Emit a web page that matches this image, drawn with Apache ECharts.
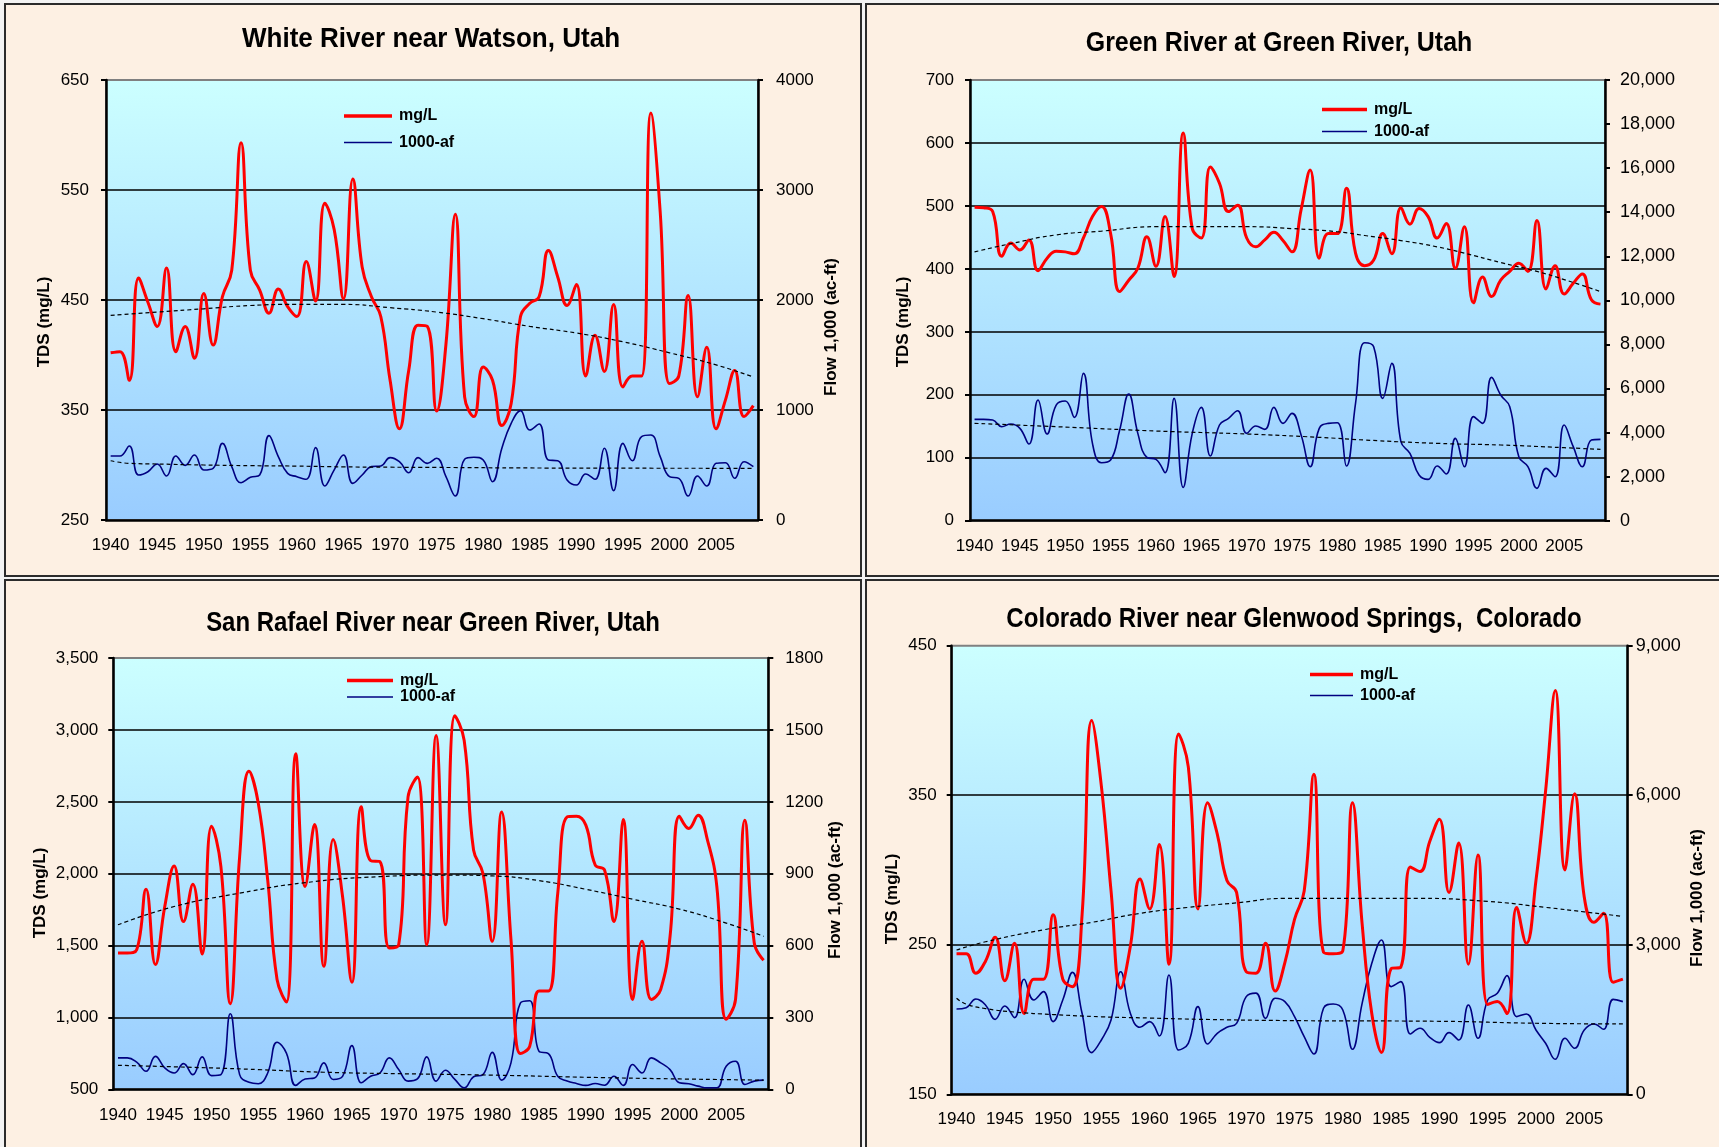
<!DOCTYPE html>
<html>
<head>
<meta charset="utf-8">
<title>TDS and Flow - Upper Colorado River Basin Stations</title>
<script src="https://cdn.jsdelivr.net/npm/echarts@6/dist/echarts.min.js"></script>
<style>
  html, body { margin: 0; padding: 0; background: #f3f3f3; }
  #wrap { position: relative; width: 1719px; height: 1147px; overflow: hidden; }
  .frame { position: absolute; box-sizing: border-box; border: 2px solid #2b2b2b; background: #fdf0e3; }
  #chart { position: absolute; left: 0; top: 0; width: 1719px; height: 1147px; }
</style>
</head>
<body>
<div id="wrap">
  <div class="frame" style="left:4px;top:3px;width:858px;height:574px;"></div>
  <div class="frame" style="left:865px;top:3px;width:858px;height:574px;"></div>
  <div class="frame" style="left:4px;top:579px;width:858px;height:572px;"></div>
  <div class="frame" style="left:865px;top:579px;width:858px;height:572px;"></div>
  <div id="chart"></div>
</div>
<script>
// Water years on the category axis
const years = Array.from({ length: 70 }, (_, i) => String(1940 + i));

// White River near Watson, Utah
const whiteTds = [
  402, 403, 377, 470, 448, 426, 479, 403, 426, 397,
  456, 409, 453, 477, 593, 477, 459, 438, 460, 444,
  435, 485, 449, 538, 514, 451, 560, 480, 453, 435,
  377, 333, 386, 427, 426, 349, 410, 528, 362, 344,
  389, 377, 336, 356, 435, 447, 453, 495, 471, 445,
  464, 381, 418, 385, 446, 371, 381, 381, 620, 530,
  374, 381, 454, 362, 407, 333, 359, 386, 344, 354
];
const whiteFlow = [
  582, 582, 673, 409, 439, 509, 400, 582, 497, 591,
  455, 470, 697, 485, 339, 388, 409, 767, 576, 424,
  394, 370, 658, 309, 455, 591, 333, 409, 485, 491,
  567, 530, 430, 567, 515, 561, 394, 218, 552, 570,
  545, 348, 652, 879, 994, 818, 873, 545, 539, 364,
  318, 418, 370, 652, 267, 697, 539, 758, 773, 576,
  394, 379, 218, 400, 309, 515, 521, 379, 530, 485
];
const whiteTdsTrend = [
  ['1940', 436], ['1945', 439], ['1950', 442], ['1955', 445], ['1960', 446],
  ['1965', 446], ['1970', 443], ['1975', 439], ['1980', 433], ['1985', 426],
  ['1990', 420], ['1995', 412], ['2000', 402], ['2005', 391], ['2009', 380]
];
const whiteFlowTrend = [
  ['1940', 539], ['1942', 515], ['1945', 509], ['1950', 500], ['1955', 494],
  ['1960', 490], ['1965', 483], ['1970', 480], ['1975', 478], ['1985', 473],
  ['1995', 471], ['2009', 470]
];

// Green River at Green River, Utah
const greenTds = [
  498, 497, 491, 420, 441, 430, 446, 397, 417, 428,
  427, 424, 449, 483, 499, 456, 364, 382, 401, 451,
  404, 483, 388, 616, 464, 449, 562, 536, 491, 501,
  449, 435, 446, 458, 445, 427, 494, 557, 417, 456,
  456, 528, 425, 405, 414, 456, 424, 497, 471, 496,
  483, 449, 472, 401, 467, 346, 387, 356, 382, 396,
  409, 396, 477, 368, 405, 360, 377, 392, 351, 344
];
const greenFlow = [
  4600, 4600, 4570, 4267, 4388, 4190, 3480, 5477, 3934, 5250,
  5432, 4690, 6688, 3510, 2633, 2754, 4115, 5749, 3964, 2875,
  2784, 2179, 5553, 1513, 3964, 5144, 2935, 4342, 4645, 4993,
  3964, 4297, 4145, 5144, 4418, 4872, 3888, 2451, 4191, 4418,
  4448, 2481, 5326, 8079, 7898, 5553, 7141, 3586, 3056, 2073,
  1876, 2481, 2118, 3737, 2451, 4721, 4418, 6506, 5704, 5175,
  2905, 2451, 1468, 2375, 1997, 4342, 3359, 2451, 3661, 3692
];
const greenTdsTrend = [
  ['1940', 427], ['1944', 440], ['1949', 454], ['1954', 460], ['1960', 467],
  ['1970', 467], ['1975', 464], ['1980', 459], ['1983', 453], ['1987', 445],
  ['1991', 435], ['1994', 425], ['1998', 410], ['2002', 396], ['2005', 383],
  ['2009', 364]
];
const greenFlowTrend = [
  ['1940', 4418], ['1949', 4267], ['1960', 4070], ['1970', 3934], ['1978', 3783],
  ['1983', 3661], ['1991', 3510], ['1998', 3435], ['2005', 3313], ['2009', 3238]
];

// San Rafael River near Green River, Utah
const sanRafaelTds = [
  1449, 1449, 1472, 1892, 1369, 1772, 2054, 1668, 1927, 1442,
  2331, 2049, 1096, 2118, 2712, 2488, 1957, 1265, 1108, 2834,
  1911, 2342, 1357, 2238, 1842, 1246, 2465, 2091, 2084, 1484,
  1507, 2534, 2672, 1507, 2961, 1645, 3099, 2926, 2165, 2003,
  1530, 2430, 1542, 750, 800, 1184, 1184, 1865, 2395, 2400,
  2338, 2061, 2026, 1668, 2377, 1126, 1530, 1126, 1195, 1565,
  2400, 2315, 2407, 2234, 1911, 988, 1126, 2372, 1519, 1398
];
const sanRafaelFlow = [
  132, 132, 114, 76, 138, 90, 69, 108, 62, 136,
  58, 62, 316, 62, 30, 24, 69, 197, 152, 17,
  44, 48, 111, 42, 55, 183, 28, 55, 69, 132,
  83, 35, 44, 136, 35, 80, 42, 7, 53, 62,
  155, 39, 111, 360, 370, 159, 150, 55, 35, 25,
  17, 25, 18, 55, 17, 104, 69, 132, 111, 83,
  28, 24, 14, 7, 7, 97, 118, 21, 35, 39
];
const sanRafaelTdsTrend = [
  ['1940', 1645], ['1946', 1772], ['1953', 1865], ['1960', 1938], ['1968', 1980],
  ['1975', 1991], ['1980', 1985], ['1985', 1952], ['1990', 1892], ['1995', 1823],
  ['2000', 1754], ['2005', 1657], ['2009', 1565]
];
const sanRafaelFlowTrend = [
  ['1940', 101], ['1950', 90], ['1955', 83], ['1962', 72], ['1970', 66],
  ['1980', 60], ['1990', 51], ['2000', 44], ['2009', 39]
];

// Colorado River near Glenwood Springs, Colorado
const coloradoTds = [
  244, 244, 231, 239, 255, 226, 251, 204, 227, 227,
  270, 227, 222, 270, 400, 356, 286, 221, 249, 294,
  274, 317, 237, 391, 369, 274, 345, 324, 293, 285,
  232, 231, 251, 219, 238, 267, 286, 364, 245, 244,
  246, 345, 264, 204, 178, 234, 235, 302, 299, 319,
  334, 285, 318, 237, 310, 210, 212, 204, 275, 251,
  293, 353, 420, 300, 351, 282, 265, 271, 225, 227
];
const coloradoFlow = [
  1712, 1738, 1912, 1792, 1504, 1772, 1538, 2307, 1892, 2059,
  1458, 1892, 2447, 1625, 836, 1090, 1491, 2460, 1625, 1344,
  1458, 1170, 2394, 889, 1023, 1758, 1010, 1224, 1344, 1424,
  1960, 2030, 1524, 1926, 1859, 1558, 1157, 809, 1725, 1812,
  1692, 903, 1825, 2628, 3096, 2160, 2260, 1210, 1324, 1143,
  1036, 1237, 1090, 1792, 1123, 1892, 2026, 2380, 1558, 1611,
  1290, 1023, 702, 1123, 923, 1290, 1411, 1304, 1905, 1859
];
const coloradoTdsTrend = [
  ['1940', 246.5], ['1943', 252], ['1949', 260], ['1954', 265], ['1959', 271],
  ['1964', 275], ['1969', 278], ['1974', 281], ['1988', 281], ['1995', 279],
  ['2001', 275], ['2005', 272], ['2009', 269]
];
const coloradoFlowTrend = [
  ['1940', 1926], ['1941', 1810], ['1943', 1720], ['1946', 1650], ['1950', 1600],
  ['1955', 1555], ['1960', 1530], ['1965', 1505], ['1975', 1478], ['1990', 1465],
  ['2000', 1425], ['2009', 1411]
];

const FONT = "'Liberation Sans', Arial, Helvetica, sans-serif";
const comma = v => Number(v).toLocaleString('en-US');
const plain = v => String(v);

const panels = [
  {
    title: 'White River near Watson, Utah', titleAt: [431, 39], titleScale: 0.93,
    grid: { left: 106, top: 80, width: 652, height: 440 },
    tds: whiteTds, flow: whiteFlow, tdsTrend: whiteTdsTrend, flowTrend: whiteFlowTrend,
    leftAxis: { min: 250, max: 650, interval: 100, margin: 17, size: 17, fmt: plain },
    rightAxis: { min: 0, max: 4000, interval: 1000, margin: 18, size: 17, fmt: plain },
    leftName: [44, 322], rightName: [831, 327],
    legend: { x: 344, rows: [117, 143.5], w: 48 }
  },
  {
    title: 'Green River at Green River, Utah', titleAt: [1279, 43], titleScale: 0.89,
    grid: { left: 970, top: 80, width: 635, height: 440.7 },
    tds: greenTds, flow: greenFlow, tdsTrend: greenTdsTrend, flowTrend: greenFlowTrend,
    leftAxis: { min: 0, max: 700, interval: 100, margin: 16, size: 17, fmt: plain },
    rightAxis: { min: 0, max: 20000, interval: 2000, margin: 15, size: 18, fmt: comma },
    leftName: [903, 322], rightName: null,
    legend: { x: 1322, rows: [110.5, 132.5], w: 45 }
  },
  {
    title: 'San Rafael River near Green River, Utah', titleAt: [433, 623], titleScale: 0.855,
    grid: { left: 113.3, top: 658, width: 655, height: 431.5 },
    tds: sanRafaelTds, flow: sanRafaelFlow, tdsTrend: sanRafaelTdsTrend, flowTrend: sanRafaelFlowTrend,
    leftAxis: { min: 500, max: 3500, interval: 500, margin: 15, size: 17, fmt: comma },
    rightAxis: { min: 0, max: 1800, interval: 300, margin: 17, size: 17, fmt: plain },
    leftName: [40.5, 893], rightName: [835, 890],
    legend: { x: 347, rows: [681.5, 698], w: 46 }
  },
  {
    title: 'Colorado River near Glenwood Springs,  Colorado', titleAt: [1294, 619], titleScale: 0.86,
    grid: { left: 951.7, top: 645.7, width: 676, height: 448.6 },
    tds: coloradoTds, flow: coloradoFlow, tdsTrend: coloradoTdsTrend, flowTrend: coloradoFlowTrend,
    leftAxis: { min: 150, max: 450, interval: 100, margin: 15, size: 17, fmt: plain },
    rightAxis: { min: 0, max: 9000, interval: 3000, margin: 8, size: 18, fmt: comma },
    leftName: [892, 899], rightName: [1697, 898],
    legend: { x: 1310, rows: [675.5, 696.5], w: 43 }
  }
];

const plotFill = {
  type: 'linear', x: 0, y: 0, x2: 0, y2: 1,
  colorStops: [{ offset: 0, color: '#ccffff' }, { offset: 1, color: '#99ccff' }]
};

const option = {
  animation: false,
  grid: [], xAxis: [], yAxis: [], series: [], legend: [], graphic: []
};

function valueAxis(k, side, cfg) {
  return {
    type: 'value', gridIndex: k, position: side,
    min: cfg.min, max: cfg.max, interval: cfg.interval,
    axisLine: { show: true, onZero: false, lineStyle: { color: '#000', width: 2.5 } },
    axisTick: { show: true, inside: false, length: 5, lineStyle: { color: '#000', width: 2 } },
    axisLabel: { margin: cfg.margin, fontSize: cfg.size, fontFamily: FONT, color: '#000', formatter: cfg.fmt },
    splitLine: side === 'left'
      ? { show: true, showMinLine: false, showMaxLine: false, lineStyle: { color: '#000', width: 1.5 } }
      : { show: false }
  };
}

function legendRow(name, color, thick, x, y, w) {
  return {
    data: [{ name: name, icon: 'rect', itemStyle: { color: color } }],
    left: x, top: y - 9, padding: 0, orient: 'vertical',
    itemWidth: w, itemHeight: thick, selectedMode: false,
    textStyle: { fontSize: 16, fontWeight: 'bold', fontFamily: FONT, color: '#000', padding: [0, 0, 0, 2] }
  };
}

function label(text, at, size, rotate, sx) {
  return {
    type: 'text', x: at[0], y: at[1], rotation: rotate ? Math.PI / 2 : 0,
    scaleX: sx || 1, z: 100, silent: true,
    style: {
      text: text, fontSize: size, fontWeight: 'bold', fontFamily: FONT,
      fill: '#000', align: 'center', verticalAlign: 'middle'
    }
  };
}

panels.forEach((p, k) => {
  option.grid.push(Object.assign({
    show: true, backgroundColor: plotFill, borderColor: '#808080', borderWidth: 2
  }, p.grid));

  option.xAxis.push({
    type: 'category', gridIndex: k, data: years, boundaryGap: true,
    axisLine: { lineStyle: { color: '#000', width: 2.5 } },
    axisTick: { interval: 4, length: 6, lineStyle: { color: '#000', width: 2 } },
    axisLabel: { interval: 4, margin: 17, fontSize: 17, fontFamily: FONT, color: '#000' },
    splitLine: { show: false }
  });

  option.yAxis.push(valueAxis(k, 'left', p.leftAxis));
  option.yAxis.push(valueAxis(k, 'right', p.rightAxis));

  const common = { type: 'line', xAxisIndex: k, symbol: 'none', silent: true };
  option.series.push(Object.assign({}, common, {
    name: '1000-af', yAxisIndex: 2 * k + 1, data: p.flow, smooth: 0.45, z: 2,
    itemStyle: { color: '#000080' }, lineStyle: { color: '#000080', width: 1.6 }
  }));
  option.series.push(Object.assign({}, common, {
    name: 'mg/L', yAxisIndex: 2 * k, data: p.tds, smooth: 0.45, z: 3,
    itemStyle: { color: '#ff0000' }, lineStyle: { color: '#ff0000', width: 3 }
  }));
  option.series.push(Object.assign({}, common, {
    name: 'flow trend ' + k, yAxisIndex: 2 * k + 1, data: p.flowTrend, smooth: true, z: 4,
    itemStyle: { color: '#000' }, lineStyle: { color: '#000', width: 1.2, type: [4, 3] }
  }));
  option.series.push(Object.assign({}, common, {
    name: 'tds trend ' + k, yAxisIndex: 2 * k, data: p.tdsTrend, smooth: true, z: 4,
    itemStyle: { color: '#000' }, lineStyle: { color: '#000', width: 1.2, type: [4, 3] }
  }));

  option.legend.push(legendRow('mg/L', '#ff0000', 3.5, p.legend.x, p.legend.rows[0], p.legend.w));
  option.legend.push(legendRow('1000-af', '#000080', 1.6, p.legend.x, p.legend.rows[1], p.legend.w));

  option.graphic.push(label(p.title, p.titleAt, 28, false, p.titleScale));
  option.graphic.push(label('TDS (mg/L)', p.leftName, 17, true));
  if (p.rightName) option.graphic.push(label('Flow 1,000 (ac-ft)', p.rightName, 17, true));
});

const chart = echarts.init(document.getElementById('chart'), null, { renderer: 'canvas' });
chart.setOption(option);
</script>
</body>
</html>
